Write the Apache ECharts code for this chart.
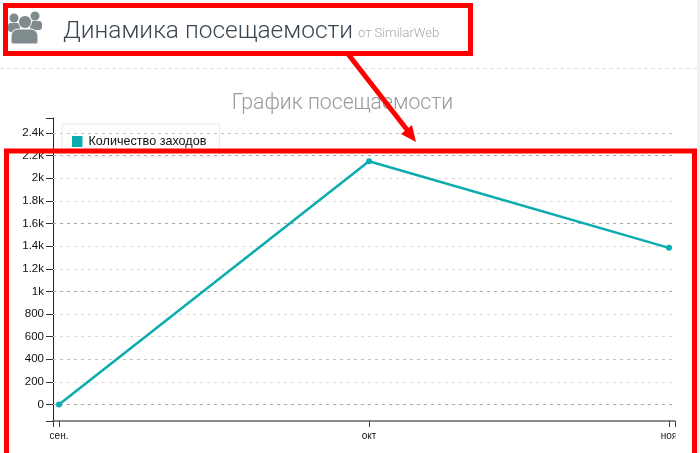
<!DOCTYPE html>
<html><head><meta charset="utf-8">
<style>html,body{margin:0;padding:0;background:#fff}#c{width:700px;height:453px}</style>
<script src="https://cdn.jsdelivr.net/npm/echarts@6/dist/echarts.min.js"></script>
</head><body><div id="c"></div>
<script>
const months = ['сен.', 'окт', 'ноя'];
const dayOffsets = [0, 31, 61];
const visits = [0, 2150, 1385];
const yTicks = [0,200,400,600,800,1000,1200,1400,1600,1800,2000,2200,2400];
const yTickLabels = ['0','200','400','600','800','1k','1.2k','1.4k','1.6k','1.8k','2k','2.2k','2.4k'];
const darkGrid = [0,1000,1600,2200];
const midGrid = [400,2400];
const lightGrid = [200,600,800,1200,1400,1800,2000];
const seriesName = 'Количество заходов';

const xMin=-0.6,xMax=61.6,yMin=-146,yMax=2533;
const TEAL='#0aacb0', RED='#ff0000', ICON='#7f8b8c';
const gridItems=(vals,color)=>vals.map(v=>({yAxis:v,lineStyle:{color:color}}));
const chart=echarts.init(document.getElementById('c'),null,{renderer:'canvas'});
chart.setOption({
  animation:false,
  color:[TEAL],
  title:{text:'График посещаемости',left:337.5,top:88,textAlign:'center',
    textStyle:{fontFamily:'Roboto',fontWeight:300,fontSize:21.2,color:'#9a9a9a'}},
  legend:{show:true,left:62,top:124,orient:'horizontal',padding:[11,13,9,10],
    itemWidth:10.5,itemHeight:11,itemGap:7,borderColor:'#e8e8e8',borderWidth:1,icon:'rect',
    textStyle:{fontFamily:'Liberation Sans',fontSize:12.6,color:'#111',padding:[1,0,0,1]},data:[seriesName]},
  grid:{left:53,right:25,top:118,bottom:32,containLabel:false},
  xAxis:{type:'value',min:xMin,max:xMax,
    axisLine:{show:true,onZero:false,lineStyle:{color:'#666',width:1.5}},
    splitLine:{show:false},
    axisTick:{show:true,length:6,customValues:[xMin,...dayOffsets,xMax],lineStyle:{color:'#444'}},
    axisLabel:{customValues:dayOffsets,showMinLabel:true,showMaxLabel:true,margin:10,
      fontFamily:'Liberation Sans',fontSize:10,color:'#111',
      formatter:v=>months[dayOffsets.indexOf(v)]}},
  yAxis:{type:'value',min:yMin,max:yMax,
    axisLine:{show:true,onZero:false,lineStyle:{color:'#222',width:1}},
    splitLine:{show:false},
    axisTick:{show:true,length:7,customValues:[yMin,...yTicks,yMax],lineStyle:{color:'#333'}},
    axisLabel:{customValues:yTicks,margin:9,fontFamily:'Liberation Sans',fontSize:11.5,color:'#111',
      formatter:v=>yTickLabels[yTicks.indexOf(v)]}},
  series:[{name:seriesName,type:'line',data:dayOffsets.map((d,i)=>[d,visits[i]]),
    symbol:'circle',symbolSize:6,showSymbol:true,lineStyle:{width:2.5,color:TEAL},itemStyle:{color:TEAL},z:5,
    markLine:{silent:true,symbol:'none',label:{show:false},animation:false,z:1,
      lineStyle:{type:[3,4],width:1.2},
      data:[...gridItems(lightGrid,'#d8d8d8'),...gridItems(midGrid,'#c4c4c4'),...gridItems(darkGrid,'#a8a8a8')]}}],
  graphic:[
    {type:'rect',z:50,shape:{x:675.5,y:428,width:16,height:22},style:{fill:'#fff'}},
    {type:'line',z:1,shape:{x1:0,y1:68.5,x2:697,y2:68.5},style:{stroke:'#d5e0e3',lineWidth:1,lineDash:[4,3]}},
    {type:'rect',z:1,shape:{x:697,y:0,width:3,height:453},style:{fill:'#f1f1f1'}},
    // people icon
    {type:'circle',z:2,shape:{cx:14,cy:18,r:4.5},style:{fill:ICON}},
    {type:'circle',z:2,shape:{cx:35,cy:16,r:4.5},style:{fill:ICON}},
    {type:'rect',z:2,shape:{x:8,y:23,width:12,height:9,r:3},style:{fill:ICON}},
    {type:'rect',z:2,shape:{x:30,y:21,width:12,height:9,r:3},style:{fill:ICON}},
    {type:'circle',z:3,shape:{cx:25,cy:22,r:6.5},style:{fill:ICON,stroke:'#fff',lineWidth:1}},
    {type:'rect',z:3,shape:{x:11,y:29,width:27,height:15,r:[7,7,2,2]},style:{fill:ICON,stroke:'#fff',lineWidth:1}},
    // header
    {type:'text',z:4,style:{x:63,y:31.5,text:'Динамика посещаемости',verticalAlign:'middle',
      font:'300 24.5px Roboto',fill:'#3a4652'}},
    {type:'text',z:4,style:{x:358,y:33.5,text:'от SimilarWeb',verticalAlign:'middle',
      font:'300 13px Roboto',fill:'#a8a8a8'}},
    // annotations
    {type:'rect',z:40,shape:{x:5.5,y:5.5,width:465,height:48},style:{fill:null,stroke:RED,lineWidth:5}},
    {type:'rect',z:40,shape:{x:6.5,y:151,width:688,height:330},style:{fill:null,stroke:RED,lineWidth:5}},
    {type:'line',z:40,shape:{x1:348,y1:54,x2:408,y2:131},style:{stroke:RED,lineWidth:5}},
    {type:'polygon',z:40,shape:{points:[[416,142],[401,134],[412,125]]},style:{fill:RED}}
  ]
});
</script></body></html>
